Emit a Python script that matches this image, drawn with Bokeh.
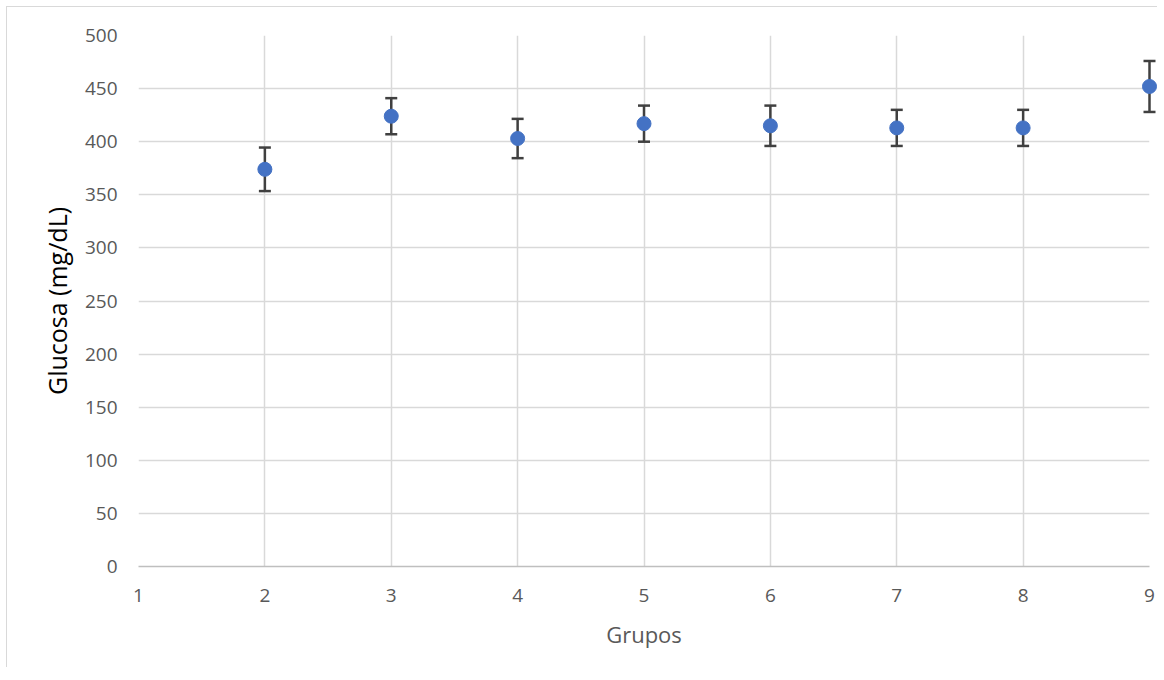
from bokeh.plotting import figure
from bokeh.models import Range1d, FixedTicker, ColumnDataSource
from bokeh.embed import file_html
from bokeh.resources import INLINE

# data
grupos = [2, 3, 4, 5, 6, 7, 8, 9]
glucosa = [374, 424, 403, 417, 415, 413, 413, 452]
error = [20.5, 17, 18.5, 17, 19, 17, 17, 24]
x_ticks = [1, 2, 3, 4, 5, 6, 7, 8, 9]
y_ticks = [0, 50, 100, 150, 200, 250, 300, 350, 400, 450, 500]

src = ColumnDataSource(dict(
    x=grupos, y=glucosa,
    lower=[g - e for g, e in zip(glucosa, error)],
    upper=[g + e for g, e in zip(glucosa, error)],
))

FONT = "Open Sans"
GREY = "#595959"
ERR = "#404040"

p = figure(width=1150, height=660, frame_width=1011, frame_height=531,
           min_border_left=131, min_border_right=8, min_border_top=28, min_border_bottom=101,
           output_backend="svg", toolbar_location=None,
           x_range=Range1d(1, 9), y_range=Range1d(0, 500))
p.outline_line_color = None
p.background_fill_color = "white"
p.border_fill_color = "white"
p.styles = {"margin-left": "6px", "margin-top": "6px",
            "border-left": "1px solid #d9d9d9", "border-top": "1px solid #d9d9d9"}

for ax in (p.xaxis[0], p.yaxis[0]):
    ax.major_tick_line_color = None
    ax.minor_tick_line_color = None
    ax.major_label_text_font = FONT
    ax.major_label_text_font_size = "19px"
    ax.major_label_text_color = GREY
    ax.axis_label_text_font = FONT
    ax.axis_label_text_font_style = "normal"

p.xaxis.ticker = FixedTicker(ticks=x_ticks)
p.yaxis.ticker = FixedTicker(ticks=y_ticks)
p.xaxis.axis_line_color = "#bfbfbf"
p.xaxis.axis_line_width = 1.5
p.yaxis.axis_line_color = None
p.xaxis.major_label_standoff = 16
p.yaxis.major_label_standoff = 15
p.xaxis.axis_label = "Grupos"
p.xaxis.axis_label_text_font_size = "22px"
p.xaxis.axis_label_text_color = GREY
p.xaxis.axis_label_standoff = 14
p.yaxis.axis_label = "Glucosa (mg/dL)"
p.yaxis.axis_label_text_font_size = "25px"
p.yaxis.axis_label_text_color = "black"
p.yaxis.axis_label_standoff = 8

p.xgrid.ticker = FixedTicker(ticks=x_ticks)
p.ygrid.ticker = FixedTicker(ticks=y_ticks)
for g in (p.xgrid[0], p.ygrid[0]):
    g.grid_line_color = "#d9d9d9"
    g.grid_line_width = 1.5

# error bars (stems + caps), drawn under the markers
p.segment(x0="x", y0="lower", x1="x", y1="upper", source=src,
          line_color=ERR, line_width=2.5, level="overlay")
p.scatter("x", "upper", source=src, marker="dash", size=12,
          line_color=ERR, line_width=2.5, level="overlay")
p.scatter("x", "lower", source=src, marker="dash", size=12,
          line_color=ERR, line_width=2.5, level="overlay")

p.scatter("x", "y", source=src, size=14, fill_color="#4472c4", line_color="#4472c4",
          level="overlay")

open("out.html", "w").write(file_html(p, INLINE))
